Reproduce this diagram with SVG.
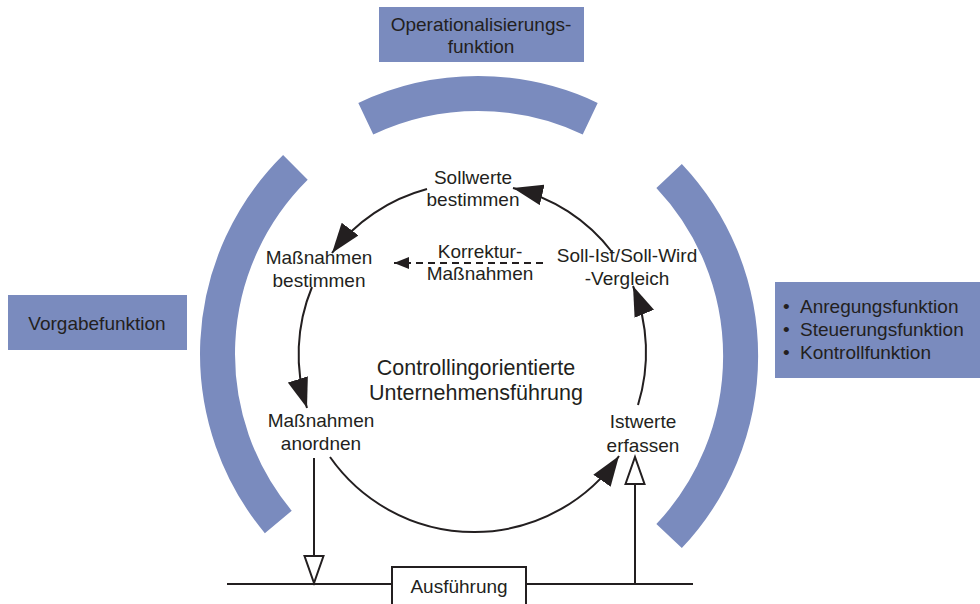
<svg xmlns="http://www.w3.org/2000/svg" width="980" height="604" viewBox="0 0 980 604">
<defs>
<style>
.band{fill:none;stroke:#7A8BBE;stroke-width:35;stroke-linecap:butt}
.box{fill:#7A8BBE;stroke:none}
.t{font-family:"Liberation Sans",Arial,sans-serif;font-size:19px;fill:#231F20;text-anchor:middle}
.tl{font-family:"Liberation Sans",Arial,sans-serif;font-size:19px;fill:#231F20}
.big{font-size:21.5px}
.ln{fill:none;stroke:#231F20;stroke-width:2}
.dash{stroke-dasharray:7 5}
</style>
<marker id="ah" viewBox="0 0 30 21" refX="30" refY="10.5" markerWidth="30" markerHeight="21" markerUnits="userSpaceOnUse" orient="auto">
<path d="M0,0 L30,10.5 L0,21 z" fill="#231F20"/>
</marker>
<marker id="ahs" viewBox="0 0 15 12" refX="15" refY="6" markerWidth="15" markerHeight="12" markerUnits="userSpaceOnUse" orient="auto">
<path d="M0,0 L15,6 L0,12 z" fill="#231F20"/>
</marker>
<marker id="aho" viewBox="-2 -2 32 23" refX="27" refY="9.5" markerWidth="32" markerHeight="23" markerUnits="userSpaceOnUse" orient="auto">
<path d="M0,0 L27,9.5 L0,19 z" fill="#FFFFFF" stroke="#231F20" stroke-width="2"/>
</marker>
</defs>
<rect width="980" height="604" fill="#FFFFFF"/>

<g id="bands">
<path class="band" d="M365.8,118.7 A262.5,262.5 0 0 1 590.2,118.7"/>
<path class="band" d="M669.1,175.9 A262.5,262.5 0 0 1 669.1,536.1"/>
<path class="band" d="M278.3,522 A262.5,262.5 0 0 1 295.4,167.4"/>
</g>

<g id="connectors">
<path class="ln" d="M427,189 A176,176 0 0 0 332,253" marker-end="url(#ah)"/>
<path class="ln" d="M612,252 A176,176 0 0 0 513,188" marker-end="url(#ah)"/>
<path class="ln" d="M312,287 A176,176 0 0 0 307,408" marker-end="url(#ah)"/>
<path class="ln" d="M330,457 A176,176 0 0 0 619,456" marker-end="url(#ah)"/>
<path class="ln" d="M638,405 A176,176 0 0 0 633,286" marker-end="url(#ah)"/>
<path class="ln dash" d="M543,263 L394,263" marker-end="url(#ahs)"/>
<path class="ln" d="M227,584 L693,584"/>
<path class="ln" d="M314,458 L314,583" marker-end="url(#aho)"/>
<path class="ln" d="M635,584 L635,457" marker-end="url(#aho)"/>
</g>

<g id="operationalisierung">
<rect class="box" x="379" y="7" width="205" height="55"/>
<text class="t" x="481" y="31">Operationalisierungs-</text>
<text class="t" x="481" y="53">funktion</text>
</g>

<g id="vorgabe">
<rect class="box" x="8" y="295" width="179" height="55"/>
<text class="t" x="97" y="330">Vorgabefunktion</text>
</g>

<g id="funktionen">
<rect class="box" x="775" y="282" width="205" height="96"/>
<text class="tl" x="783" y="313">•</text>
<text class="tl" x="800" y="313">Anregungsfunktion</text>
<text class="tl" x="783" y="336">•</text>
<text class="tl" x="800" y="336">Steuerungsfunktion</text>
<text class="tl" x="783" y="359">•</text>
<text class="tl" x="800" y="359">Kontrollfunktion</text>
</g>

<g id="sollwerte">
<text class="t" x="473" y="184">Sollwerte</text>
<text class="t" x="473" y="206">bestimmen</text>
</g>

<g id="massnahmen-bestimmen">
<text class="t" x="319" y="264">Maßnahmen</text>
<text class="t" x="319" y="287">bestimmen</text>
</g>

<g id="korrektur">
<text class="t" x="480" y="258">Korrektur-</text>
<text class="t" x="480" y="280">Maßnahmen</text>
</g>

<g id="vergleich">
<text class="t" x="627" y="262">Soll-Ist/Soll-Wird</text>
<text class="t" x="627" y="285">-Vergleich</text>
</g>

<g id="zentrum">
<text class="t big" x="476" y="375">Controllingorientierte</text>
<text class="t big" x="476" y="400">Unternehmensführung</text>
</g>

<g id="massnahmen-anordnen">
<text class="t" x="321" y="427">Maßnahmen</text>
<text class="t" x="321" y="450">anordnen</text>
</g>

<g id="istwerte">
<text class="t" x="643" y="428">Istwerte</text>
<text class="t" x="643" y="452">erfassen</text>
</g>

<g id="ausfuehrung">
<rect x="392" y="567" width="134" height="50" fill="#FFFFFF" stroke="#231F20" stroke-width="2"/>
<text class="t" x="459" y="593">Ausführung</text>
</g>
</svg>
